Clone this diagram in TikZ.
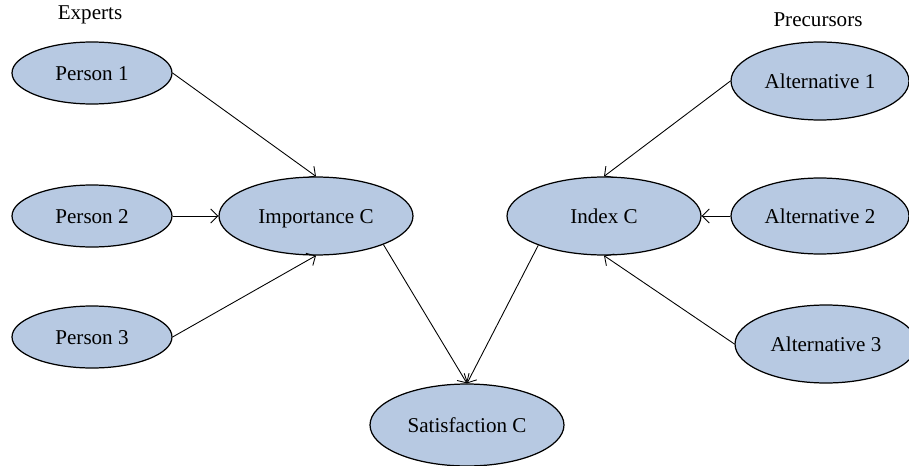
\documentclass[tikz,border=0pt]{standalone}
\usepackage{fontspec}
\setmainfont{Liberation Serif}
\usetikzlibrary{shapes.geometric, arrows.meta}
\definecolor{nodeFill}{HTML}{B7C9E2}

\begin{document}
\begin{tikzpicture}[
    x=0.02cm, y=-0.02cm,
    pbox/.style={ellipse, draw=black, fill=nodeFill, line width=0.7pt,
                 minimum width=3.2cm, minimum height=1.24cm, inner sep=0pt,
                 text height=8pt, text depth=0pt,
                 font=\fontsize{12}{14}\selectfont},
    cbox/.style={pbox, minimum width=3.88cm, minimum height=1.56cm},
    abox/.style={pbox, minimum width=3.56cm, minimum height=1.56cm},
    grp/.style={font=\fontsize{12}{14}\selectfont},
    arr/.style={-{Straight Barb[length=4pt, width=8pt]}, line width=0.5pt},
]
\clip (0,0) rectangle (909,466);

% group titles
\node[grp] (experts) at (90,15) {Experts};
\node[grp] (precursors) at (818,20) {Precursors};

% experts
\node[pbox] (p1) at (92,73) {Person 1};
\node[pbox] (p2) at (92,216) {Person 2};
\node[pbox] (p3) at (92,337) {Person 3};

% criteria
\node[cbox] (imp) at (316,216) {Importance C};
\node[cbox] (idx) at (604,216) {Index C};
\node[cbox, minimum height=1.64cm] (sat) at (467,425) {Satisfaction C};

% precursors
\node[abox] (a1) at (820,81) {Alternative 1};
\node[abox, minimum height=1.52cm] (a2) at (820,216) {Alternative 2};
\node[abox, minimum width=3.64cm] (a3) at (826,344) {Alternative 3};

\draw[arr] (p1.east) -- (imp.north);
\draw[arr] (p2.east) -- (imp.west);
\draw[arr] (p3.east) -- (imp.south);
\draw[arr] (imp.-23) -- (sat.north);
\draw[arr] (idx.204) -- (sat.north);
\draw[arr] (a1.west) -- (idx.north);
\draw[arr] (a2.west) -- (idx.east);
\draw[arr] (a3.west) -- (idx.south);

\end{tikzpicture}
\end{document}
